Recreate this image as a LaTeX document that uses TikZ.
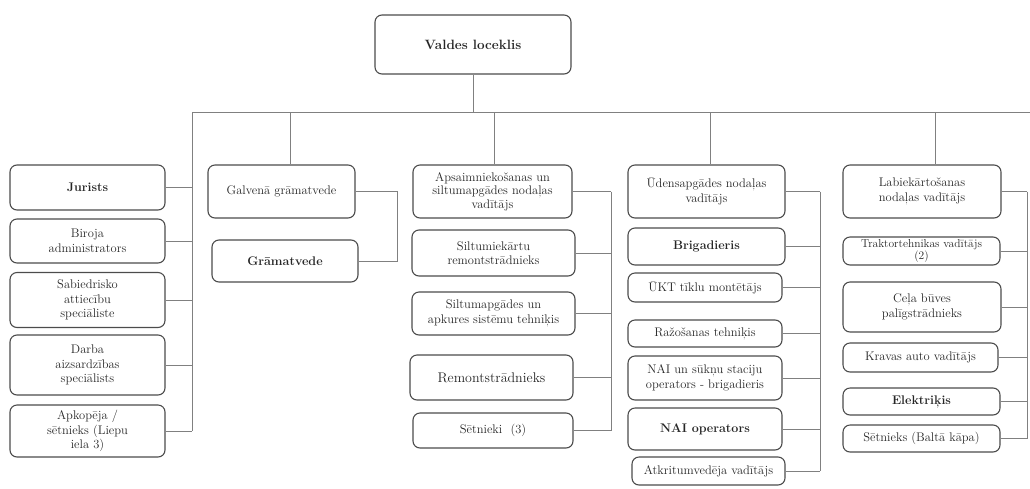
\documentclass[tikz,border=0pt]{standalone}
\usepackage{fontspec}
\setmainfont{Latin Modern Roman}
\begin{document}
\begin{tikzpicture}
    [x=1pt, y=-1pt,
     every node/.style={font=\fontsize{12.5}{14.5}\selectfont, text=black!85},
     box/.style={draw=black!70, line width=1.1pt, rounded corners=7pt, align=center, inner sep=1pt},
     sz/.style 2 args={minimum width=#1pt, minimum height=#2pt},
     heavy/.style={font=\fontsize{12.5}{14.5}\selectfont\bfseries},
     link/.style={draw=black!50, line width=0.6pt}]
    \useasboundingbox (0,0) rectangle (1030,488);
    % top
    \node[box, sz={196}{59}, font=\fontsize{13.5}{16}\selectfont\bfseries] (vald) at (473,44.5) {Valdes loceklis};
    % left column
    \node[box, heavy, sz={155}{45}] (jur) at (87.5,187.5) {Jurists};
    \node[box, sz={155}{44}] (bir) at (87.5,241) {Biroja\\administrators};
    \node[box, sz={155}{55}] (sab) at (87.5,300) {Sabiedrisko\\attiecību\\speciāliste};
    \node[box, sz={155}{60}] (dar) at (87.5,365) {Darba\\aizsardzības\\speciālists};
    \node[box, sz={155}{52}] (apk) at (87.5,431) {Apkopēja /\\sētnieks (Liepu\\iela 3)};
    % accounting
    \node[box, sz={147}{53}] (galv) at (281.5,191.5) {Galvenā grāmatvede};
    \node[box, heavy, sz={146}{42}] (gram) at (285,261) {Grāmatvede};
    % maintenance and heating
    \node[box, sz={159}{53}, font=\fontsize{12.5}{13.5}\selectfont] (aps) at (492.5,191.5) {Apsaimniekošanas un\\siltumapgādes nodaļas\\vadītājs};
    \node[box, sz={163}{46}] (silt) at (493.5,253) {Siltumiekārtu\\remontstrādnieks};
    \node[box, sz={163}{43}] (sapg) at (493.5,313.5) {Siltumapgādes un\\apkures sistēmu tehniķis};
    \node[box, sz={163}{45}, font=\fontsize{14}{16}\selectfont] (rem) at (491.5,377.5) {Remontstrādnieks};
    \node[box, sz={160}{35}] (setn) at (493,430.5) {Sētnieki~~(3)};
    % water supply
    \node[box, sz={157}{53}] (ude) at (706.5,191.5) {Ūdensapgādes nodaļas\\vadītājs};
    \node[box, heavy, sz={157}{37}] (brig) at (706.5,246.5) {Brigadieris};
    \node[box, sz={154}{29}] (ukt) at (705,287.5) {ŪKT tīklu montētājs};
    \node[box, sz={154}{27}] (raz) at (705,333.5) {Ražošanas tehniķis};
    \node[box, sz={154}{44}] (nai) at (705,378) {NAI un sūkņu staciju\\operators - brigadieris};
    \node[box, heavy, sz={154}{42}] (naio) at (705,429) {NAI operators};
    \node[box, sz={153}{28}] (atk) at (708.5,471) {Atkritumvedēja vadītājs};
    % landscaping
    \node[box, sz={158}{53}] (lab) at (922,191.5) {Labiekārtošanas\\nodaļas vadītājs};
    \node[box, sz={157}{28}, font=\fontsize{11.5}{12}\selectfont] (trak) at (921.5,251) {Traktortehnikas vadītājs\\(2)};
    \node[box, sz={158}{50}] (cel) at (922,307) {Ceļa būves\\palīgstrādnieks};
    \node[box, sz={155}{29}] (krav) at (920.5,357.5) {Kravas auto vadītājs};
    \node[box, heavy, sz={157}{27}] (elek) at (921.5,401.5) {Elektriķis};
    \node[box, sz={157}{27}] (setb) at (921.5,438.5) {Sētnieks (Baltā kāpa)};
    % main bar
    \coordinate (b1) at (192,112);
    \coordinate (b2) at (290,112);
    \coordinate (b3) at (494,112);
    \coordinate (b4) at (710,112);
    \coordinate (b5) at (935,112);
    \coordinate (bend) at (1030,112);
    \draw[link] (vald.south) -- (vald.south |- b1);
    \draw[link] (b1) -- (bend);
    \draw[link] (b2) -- (b2 |- galv.north);
    \draw[link] (b3) -- (b3 |- aps.north);
    \draw[link] (b4) -- (b4 |- ude.north);
    \draw[link] (b5) -- (b5 |- lab.north);
    % left bus
    \draw[link] (b1) -- (b1 |- apk.east);
    \foreach \n in {jur, bir, sab, dar, apk}
        \draw[link] (\n.east) -- (\n.east -| b1);
    % accounting bus
    \coordinate (g) at (397,0);
    \draw[link] (galv.east) -- (galv.east -| g) -- (gram.east -| g) -- (gram.east);
    % column buses
    \coordinate (c3) at (611,0);
    \coordinate (c4) at (820,0);
    \coordinate (c5) at (1027,0);
    \draw[link] (aps.east -| c3) -- (setn.east -| c3);
    \foreach \n in {aps, silt, sapg, rem, setn}
        \draw[link] (\n.east) -- (\n.east -| c3);
    \draw[link] (ude.east -| c4) -- (atk.east -| c4);
    \foreach \n in {ude, brig, ukt, raz, nai, naio, atk}
        \draw[link] (\n.east) -- (\n.east -| c4);
    \draw[link] (lab.east -| c5) -- (setb.east -| c5);
    \foreach \n in {lab, trak, cel, krav, elek, setb}
        \draw[link] (\n.east) -- (\n.east -| c5);
\end{tikzpicture}
\end{document}
